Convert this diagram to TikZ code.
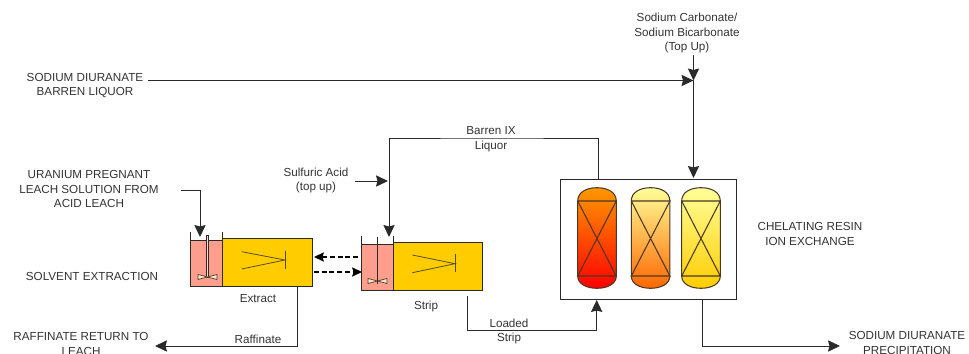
\documentclass[tikz,border=0pt]{standalone}
\usepackage{fontspec}
\setmainfont{Liberation Sans}
\usepackage{tikz}
\usetikzlibrary{arrows.meta}
\definecolor{settler}{HTML}{FFCC00}
\definecolor{mixer}{HTML}{FF9E8C}
\definecolor{linecol}{HTML}{2A2A2A}
\definecolor{textcol}{HTML}{333333}
\definecolor{paleyellow}{HTML}{FFFF99}
\definecolor{deeporange}{HTML}{FF9900}
\definecolor{burnt}{HTML}{FF6600}
\definecolor{midone}{HTML}{FF7F00}
\definecolor{midtwo}{HTML}{FFD88A}
\definecolor{midthree}{HTML}{FFEE70}
\tikzset{
    lbl/.style={font=\fontsize{8.3}{10.3}\selectfont, text=textcol, align=center, inner sep=0pt},
    flow/.style={color=linecol, line width=0.7pt},
    flowarrow/.style={flow, -{Stealth[length=8.5pt,width=8pt,inset=1pt]}},
    dasharrow/.style={color=black, line width=1.1pt, dash pattern=on 3.5pt off 2pt, -{Stealth[length=7pt,width=6.5pt,inset=1pt]}},
    unit/.style={draw=linecol, line width=0.7pt},
    inner/.style={color=linecol!80!settler, line width=0.55pt},
    vessel/.style={draw=linecol!85!orange, line width=0.75pt}
}

\begin{document}
\begin{tikzpicture}[x=0.025cm,y=-0.025cm]
    \useasboundingbox (0,0) rectangle (969,354);

    % labels
    \node[lbl] (topup) at (687,33) {Sodium Carbonate/\\Sodium Bicarbonate\\(Top Up)};
    \node[lbl] (barren) at (85,85.5) {SODIUM DIURANATE\\BARREN LIQUOR};
    \node[lbl] (pregnant) at (89,189) {URANIUM PREGNANT\\LEACH SOLUTION FROM\\ACID LEACH};
    \node[lbl] (sulfuric) at (316,180.5) {Sulfuric Acid\\(top up)};
    \node[lbl] (barrenix) at (491,139) {Barren IX\\Liquor};
    \node[lbl] (resin) at (810,234) {CHELATING RESIN\\ION EXCHANGE};
    \node[lbl] (solvent) at (92,276) {SOLVENT EXTRACTION};
    \node[lbl] (extract) at (258,299) {Extract};
    \node[lbl] (strip) at (426,306) {Strip};
    \node[lbl] (raffinate) at (258,339) {Raffinate};
    \node[lbl] (raffreturn) at (81,344) {RAFFINATE RETURN TO\\LEACH};
    \node[lbl] (loaded) at (509,331.5) {Loaded\\Strip};
    \node[lbl] (precip) at (907,343) {SODIUM DIURANATE\\PRECIPITATION};

    % ion exchange
    \draw[unit] (560,179) rectangle (736.7,299);
    \coordinate (ixtop) at (693.5,178); \coordinate (ixout) at (598.7,179); \coordinate (ixin) at (596.7,300); \coordinate (ixprod) at (702.7,299);
    \foreach \xa/\ca/\cm/\cb in {577.7/deeporange/midone/red, 631.3/paleyellow/midtwo/burnt, 681.7/paleyellow/midthree/settler} {
        \pgfmathsetmacro{\xb}{\xa+38.6}
        \shade[vessel, top color=\ca, middle color=\cm, bottom color=\cb] (\xa,201) .. controls (\xa,192) and (\xa+9,187.7) .. (\xa+19.3,187.7) .. controls (\xb-9,187.7) and (\xb,192) .. (\xb,201) -- (\xb,276) .. controls (\xb,284) and (\xb-9,288.3) .. (\xa+19.3,288.3) .. controls (\xa+9,288.3) and (\xa,284) .. (\xa,276) -- cycle;
        \draw[vessel] (\xa,201) -- (\xb,201) -- (\xa,276) -- (\xb,276) -- (\xa,201);
    }

    % extract unit
    \draw[unit, fill=settler] (222.7,238.3) rectangle (312.7,286.7);
    \draw[unit, fill=mixer] (190.7,240.7) rectangle (222.7,286.7);
    \draw[unit] (190.7,240.7) -- (190.7,232); \draw[unit] (222.7,240.7) -- (222.7,232);
    \draw[inner] (241.7,251.7) -- (285,260) -- (241.7,269); \draw[inner] (285,250.7) -- (285,269.3);
    \draw[unit, fill=mixer!40!white] (206,235) rectangle (208.7,277);
    \draw[inner, fill=mixer!30!white] (198,274.5) -- (217,279.5) -- (217,274.5) -- (198,279.5) -- cycle;

    % strip unit
    \draw[unit, fill=settler] (393.3,242) rectangle (482,290);
    \draw[unit, fill=mixer] (361.7,244.3) rectangle (393.3,290);
    \draw[unit] (361.7,244.3) -- (361.7,236); \draw[unit] (393.3,244.3) -- (393.3,236);
    \draw[inner] (412.3,255) -- (455,263.7) -- (412.3,272.7); \draw[inner] (455,254) -- (455,272);
    \draw[inner, fill=mixer!30!white] (368,278.5) -- (387,283.5) -- (387,278.5) -- (368,283.5) -- cycle;
    \draw[unit] (377,237) -- (377,284);

    % connectors
    \coordinate (jct) at (693.5,80.5);
    \coordinate (barrenend) at (148,80.5);
    \coordinate (topupend) at (693.5,55);
    \draw[flowarrow] (barrenend) -- (jct);
    \draw[flowarrow] (topupend) -- (jct);
    \draw[flowarrow] (jct) -- (ixtop);

    \coordinate (pregend) at (181,190.7); \coordinate (exfeed) at (200,237);
    \draw[flowarrow] (pregend) -| (exfeed);

    \coordinate (stfeed) at (389,237); \coordinate (acidend) at (355,181); \coordinate (acidjct) at (388,181);
    \draw[flowarrow] (ixout) |- (490,138) -| (stfeed);
    \draw[flowarrow] (acidend) -- (acidjct);

    \coordinate (dashtop) at (358,257); \coordinate (dashtopend) at (314,257); \coordinate (dashlow) at (314,272); \coordinate (dashlowend) at (362,272);
    \draw[dasharrow] (dashtop) -- (dashtopend);
    \draw[dasharrow] (dashlow) -- (dashlowend);

    \coordinate (raffstart) at (297.3,286.7); \coordinate (raffend) at (155,346);
    \draw[flowarrow] (raffstart) |- (raffend);

    \coordinate (loadstart) at (467.7,295.7);
    \draw[flowarrow] (loadstart) |- (530,330.7) -| (ixin);

    \coordinate (prodend) at (840,346);
    \draw[flowarrow] (ixprod) |- (prodend);
\end{tikzpicture}
\end{document}
